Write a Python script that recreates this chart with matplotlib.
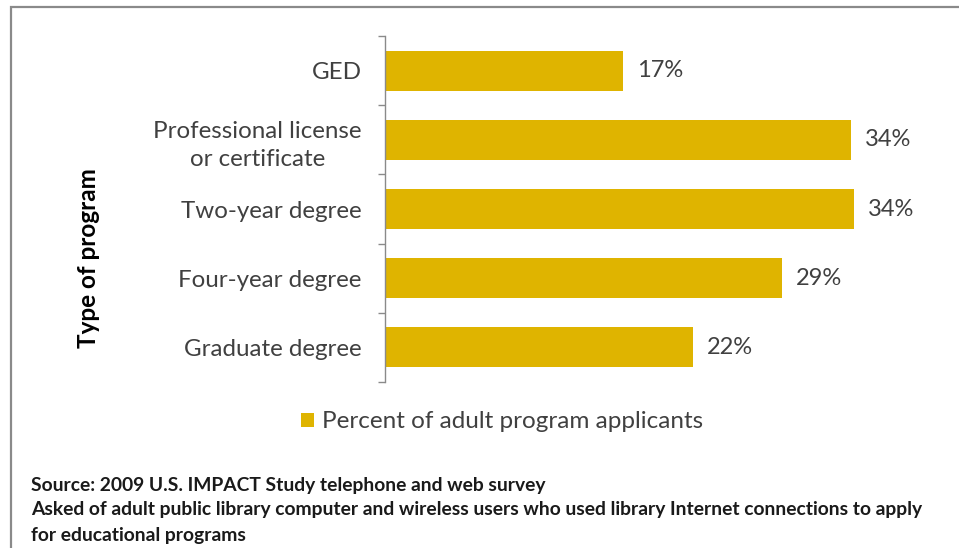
import matplotlib
matplotlib.use('Agg')
import matplotlib.pyplot as plt
from matplotlib.patches import Rectangle

# ---------------------------------- DATA ---------------------------------- #
programs = ['GED', 'Professional license\nor certificate', 'Two-year degree',
            'Four-year degree', 'Graduate degree']
percents = [17.3, 33.9, 34.1, 28.9, 22.4]
pct_labels = ['17%', '34%', '34%', '29%', '22%']
series_name = 'Percent of adult program applicants'
axis_title = 'Type of program'
source_lines = ['Source: 2009 U.S. IMPACT Study telephone and web survey',
                'Asked of adult public library computer and wireless users who used library Internet connections to apply',
                'for educational programs']

BAR = '#DFB400'
TXT = '#404040'
FONT = ['Lato', 'DejaVu Sans']

# --------------------------------- FIGURE --------------------------------- #
fig = plt.figure(figsize=(9.59, 5.48), dpi=100)
fig.patch.set_facecolor('white')

# light gray frame round the chart
fig.patches.append(Rectangle((11 / 959, -0.1), 1.2, 1 - 7 / 548 + 0.1,
                             transform=fig.transFigure, fill=False,
                             edgecolor='#8a8a8a', linewidth=1.6))

ax = fig.add_axes([385 / 959, 1 - 382 / 548, 550 / 959, 346 / 548])
ypos = list(range(len(programs)))
bars = ax.barh(ypos, percents, height=0.58, color=BAR, label=series_name)
ax.set_xlim(0, 40)
ax.set_ylim(len(programs) - 0.5, -0.5)

for y, v, lab in zip(ypos, percents, pct_labels):
    ax.text(v + 1.0, y, lab, va='center', ha='left', fontsize=17,
            color=TXT, family=FONT)

ax.set_yticks(ypos)
ax.set_yticklabels(programs, fontsize=17.4, color=TXT, family=FONT,
                   ha='right', multialignment='center', linespacing=1.45)
ax.tick_params(axis='y', which='major', length=0, pad=17)
ax.set_yticks([i - 0.5 for i in range(len(programs) + 1)], minor=True)
ax.tick_params(axis='y', which='minor', length=5, color='#8a8a8a', width=1)
ax.set_xticks([])
for s in ['top', 'right', 'bottom']:
    ax.spines[s].set_visible(False)
ax.spines['left'].set_color('#8a8a8a')
ax.spines['left'].set_linewidth(1)

fig.text(88 / 959, 1 - 258 / 548, axis_title, rotation=90, ha='center',
         va='center', fontsize=17.5, fontweight='bold', color='black',
         family=FONT)

leg = fig.legend(handles=[bars], labels=[series_name], loc='center',
                 bbox_to_anchor=(502 / 959, 1 - 422 / 548), frameon=False,
                 handlelength=0.55, handleheight=0.55, handletextpad=0.35,
                 prop={'family': FONT, 'size': 17.5})
for t in leg.get_texts():
    t.set_color(TXT)

for i, line in enumerate(source_lines):
    fig.text(31 / 959, 1 - (485 + 25 * i) / 548, line, ha='left',
             va='center', fontsize=13.9, fontweight='bold', color='#1a1a1a',
             family=FONT)

fig.savefig('out.png', dpi=100, facecolor='white')
